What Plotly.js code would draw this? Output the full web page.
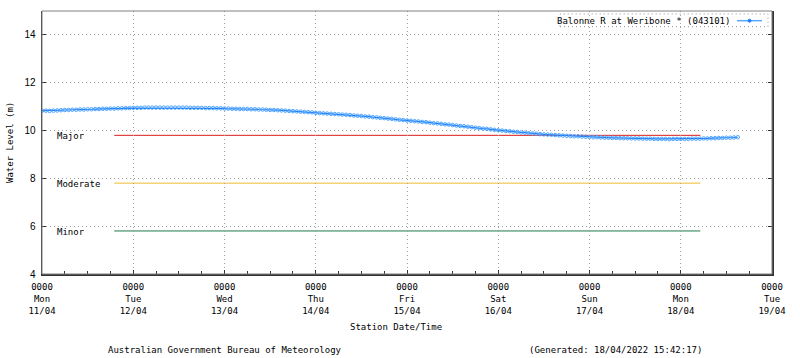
<!DOCTYPE html>
<html>
<head>
<meta charset="utf-8">
<script src="https://cdn.plot.ly/plotly-3.0.1.min.js"></script>
<style>
html,body{margin:0;padding:0;background:#fff;}
#chart{width:800px;height:358px;}
</style>
</head>
<body>
<div id="chart"></div>
<script>
// ---- data ----
const seriesName = 'Balonne R at Weribone * (043101)';
const startTime = '2022-04-11T00:00:00';
const stepHours = 1;
// hourly water level (m), from Mon 11/04 00:00
const waterLevel = [
  10.83,10.83,10.82,10.83,10.84,10.85,10.86,10.86,10.87,10.87,10.88,10.88,10.89,10.89,10.90,10.90,10.91,10.91,10.92,10.92,10.93,10.93,10.94,10.94,
  10.95,10.95,10.95,10.96,10.96,10.96,10.96,10.96,10.96,10.96,10.96,10.96,10.96,10.96,10.96,10.95,10.95,10.95,10.95,10.94,10.94,10.94,10.93,10.93,
  10.92,10.92,10.91,10.91,10.90,10.90,10.90,10.89,10.89,10.88,10.88,10.87,10.86,10.86,10.85,10.84,10.83,10.82,10.81,10.80,10.79,10.78,10.77,10.76,
  10.74,10.73,10.72,10.71,10.70,10.69,10.68,10.67,10.66,10.65,10.63,10.62,10.61,10.59,10.58,10.56,10.55,10.53,10.52,10.50,10.49,10.47,10.45,10.44,
  10.42,10.41,10.39,10.38,10.36,10.35,10.33,10.31,10.30,10.28,10.26,10.25,10.23,10.21,10.19,10.18,10.16,10.14,10.12,10.10,10.08,10.07,10.05,10.03,
  10.01,10.00,9.98,9.97,9.95,9.94,9.92,9.91,9.89,9.88,9.87,9.85,9.84,9.83,9.82,9.81,9.80,9.79,9.78,9.77,9.76,9.76,9.75,9.74,
  9.73,9.72,9.72,9.71,9.70,9.70,9.69,9.69,9.68,9.68,9.68,9.67,9.67,9.67,9.66,9.66,9.66,9.65,9.65,9.65,9.65,9.64,9.65,9.65,
  9.65,9.65,9.65,9.66,9.66,9.66,9.67,9.67,9.68,9.68,9.69,9.69,9.70,9.70,9.71,9.72
];
const thresholdNames  = ['Major', 'Moderate', 'Minor'];
const thresholdLevels = [9.8, 7.8, 5.8];
const thresholdStart = '2022-04-11T19:00:00';
const thresholdEnd   = '2022-04-18T05:10:00';
const dayTickVals = ['2022-04-11','2022-04-12','2022-04-13','2022-04-14','2022-04-15','2022-04-16','2022-04-17','2022-04-18','2022-04-19'];
const dayTickTime = ['0000','0000','0000','0000','0000','0000','0000','0000','0000'];
const dayTickDow  = ['Mon','Tue','Wed','Thu','Fri','Sat','Sun','Mon','Tue'];
const dayTickDate = ['11/04','12/04','13/04','14/04','15/04','16/04','17/04','18/04','19/04'];
const yTickVals = [4, 6, 8, 10, 12, 14];
const yRange = [4, 15];
const xRange = ['2022-04-11', '2022-04-19'];
const xTitle = 'Station Date/Time';
const yTitle = 'Water Level (m)';
const footerLeft = 'Australian Government Bureau of Meteorology';
const footerRight = '(Generated: 18/04/2022 15:42:17)';

// ---- styles ----
const thresholdColors = ['#dd1c1c', '#eebb33', '#1f7a4a'];
const mono = 'DejaVu Sans Mono, monospace';
const gridDash = '1px,3px';

// build timestamps
const t0 = new Date(startTime + 'Z').getTime();
const times = waterLevel.map((_, i) => new Date(t0 + i * stepHours * 3600000).toISOString().slice(0, 19));

const trace = {
  type: 'scatter', mode: 'lines+markers', name: seriesName,
  x: times, y: waterLevel,
  line: {color: '#1a7cf5', width: 1.2},
  marker: {symbol: 'circle-open', size: 3.5, color: '#4aa2ff', line: {color: '#4aa2ff', width: 1}},
  showlegend: false, hoverinfo: 'x+y'
};

const shapes = [];
const annotations = [];
thresholdLevels.forEach((lv, i) => {
  shapes.push({type: 'line', xref: 'x', yref: 'y', x0: thresholdStart, x1: thresholdEnd, y0: lv, y1: lv,
    line: {color: thresholdColors[i], width: 1}, layer: 'below'});
  annotations.push({xref: 'paper', yref: 'y', x: 0.0178, y: lv, yshift: -1, xanchor: 'left', yanchor: 'middle',
    text: thresholdNames[i], showarrow: false, font: {family: mono, size: 9, color: '#000'}});
});

// outer gray frame (top / right)
shapes.push({type: 'rect', xref: 'paper', yref: 'paper', x0: 0, x1: 1, y0: 0, y1: 1,
  line: {color: '#808080', width: 1}, layer: 'above'});

// legend (gnuplot style: text then sample)
const legY = 1 - (20.7 - 11) / 263;
shapes.push({type: 'rect', xref: 'paper', yref: 'paper', x0: (560 - 42) / 730, x1: (768 - 42) / 730,
  y0: 1 - (26.7 - 11) / 263, y1: 1 - (14 - 11) / 263, line: {color: '#909090', width: 1, dash: gridDash}});
shapes.push({type: 'line', xref: 'paper', yref: 'paper', x0: (737 - 42) / 730, x1: (762 - 42) / 730,
  y0: legY, y1: legY, line: {color: '#5aa8ff', width: 1.5}});
shapes.push({type: 'circle', xref: 'paper', yref: 'paper', x0: (748 - 42) / 730, x1: (751 - 42) / 730,
  y0: legY - 1.5 / 263, y1: legY + 1.5 / 263, line: {color: '#1f7fff', width: 1}, fillcolor: '#1f7fff'});
annotations.push({xref: 'paper', yref: 'paper', x: (732 - 42) / 730, y: legY, xanchor: 'right', yanchor: 'middle',
  text: seriesName, showarrow: false, font: {family: mono, size: 9, color: '#000'}});

// titles and footers
annotations.push({xref: 'paper', yref: 'paper', x: (396 - 42) / 730, y: -(327 - 274) / 263, xanchor: 'center', yanchor: 'middle',
  text: xTitle, showarrow: false, font: {family: mono, size: 9, color: '#000'}});
annotations.push({xref: 'paper', yref: 'paper', x: (9.5 - 42) / 730, y: 0.5, xanchor: 'center', yanchor: 'middle', textangle: -90,
  text: yTitle, showarrow: false, font: {family: mono, size: 9, color: '#000'}});
annotations.push({xref: 'paper', yref: 'paper', x: (224.5 - 42) / 730, y: -(350 - 274) / 263, xanchor: 'center', yanchor: 'middle',
  text: footerLeft, showarrow: false, font: {family: mono, size: 9, color: '#000'}});
annotations.push({xref: 'paper', yref: 'paper', x: (615 - 42) / 730, y: -(350 - 274) / 263, xanchor: 'center', yanchor: 'middle',
  text: footerRight, showarrow: false, font: {family: mono, size: 9, color: '#000'}});

const layout = {
  width: 800, height: 358,
  margin: {l: 42, r: 28, t: 11, b: 84, pad: 0},
  paper_bgcolor: '#fff', plot_bgcolor: '#fff',
  showlegend: false,
  xaxis: {
    type: 'date', range: xRange,
    tickmode: 'array', tickvals: dayTickVals,
    ticktext: dayTickVals.map((_, i) => dayTickTime[i] + '<br>' + dayTickDow[i] + '<br>' + dayTickDate[i]),
    ticks: 'inside', ticklen: 4, tickcolor: '#333', tickwidth: 1,
    tickfont: {family: mono, size: 9, color: '#000'},
    showgrid: true, gridcolor: '#a0a0a0', griddash: gridDash, gridwidth: 1,
    showline: true, linecolor: '#333', linewidth: 1.5,
    zeroline: false,
    minor: {dtick: 6 * 3600000, ticks: 'inside', ticklen: 3, tickcolor: '#333', showgrid: false},
    ticklabelstandoff: 4
  },
  yaxis: {
    range: yRange, tickmode: 'array', tickvals: yTickVals,
    ticks: 'inside', ticklen: 4, tickcolor: '#333', mirror: 'ticks',
    tickfont: {family: 'Liberation Sans, Arial, sans-serif', size: 10, color: '#000'},
    showgrid: true, gridcolor: '#a0a0a0', griddash: gridDash, gridwidth: 1,
    showline: true, linecolor: '#333', linewidth: 1.5,
    zeroline: false, ticklabelstandoff: 3
  },
  shapes: shapes,
  annotations: annotations
};

Plotly.newPlot('chart', [trace], layout, {displayModeBar: false, staticPlot: true});
</script>
</body>
</html>
